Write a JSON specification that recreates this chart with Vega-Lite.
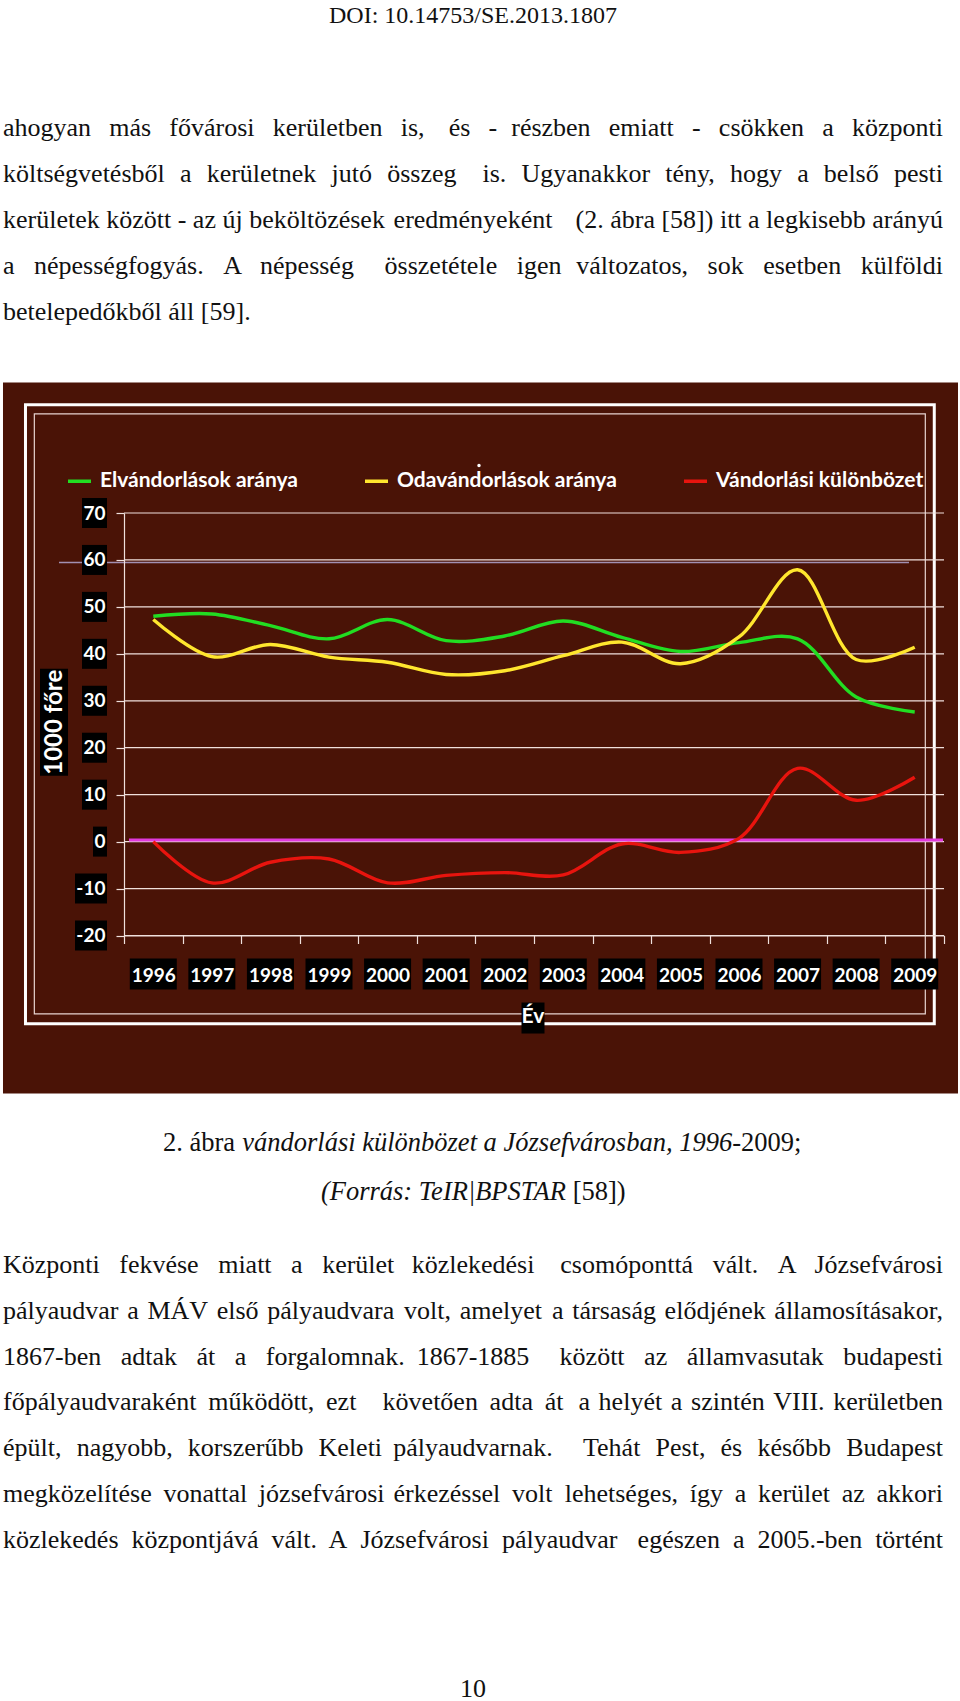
{
  "$schema": "https://vega.github.io/schema/vega-lite/v6.json",
  "padding": {"left": 2, "top": 0, "right": 0, "bottom": 0},
  "autosize": {"type": "pad"},
  "background": "#ffffff",
  "columns": 1,
  "align": "none",
  "bounds": "full",
  "spacing": 0,
  "resolve": {"legend": {"color": "independent"}},
  "config": {"view": {"stroke": null}},
  "datasets": {
    "series": [
      {"year": 1996, "series": "Elvándorlások aránya", "value": 48.0},
      {"year": 1997, "series": "Elvándorlások aránya", "value": 48.5},
      {"year": 1998, "series": "Elvándorlások aránya", "value": 46.0},
      {"year": 1999, "series": "Elvándorlások aránya", "value": 43.2},
      {"year": 2000, "series": "Elvándorlások aránya", "value": 47.3},
      {"year": 2001, "series": "Elvándorlások aránya", "value": 42.8},
      {"year": 2002, "series": "Elvándorlások aránya", "value": 43.8},
      {"year": 2003, "series": "Elvándorlások aránya", "value": 47.0},
      {"year": 2004, "series": "Elvándorlások aránya", "value": 43.5},
      {"year": 2005, "series": "Elvándorlások aránya", "value": 40.5},
      {"year": 2006, "series": "Elvándorlások aránya", "value": 42.4},
      {"year": 2007, "series": "Elvándorlások aránya", "value": 43.2},
      {"year": 2008, "series": "Elvándorlások aránya", "value": 30.8},
      {"year": 2009, "series": "Elvándorlások aránya", "value": 27.6},
      {"year": 1996, "series": "Odavándorlások aránya", "value": 47.3},
      {"year": 1997, "series": "Odavándorlások aránya", "value": 39.4},
      {"year": 1998, "series": "Odavándorlások aránya", "value": 42.0},
      {"year": 1999, "series": "Odavándorlások aránya", "value": 39.3},
      {"year": 2000, "series": "Odavándorlások aránya", "value": 38.2},
      {"year": 2001, "series": "Odavándorlások aránya", "value": 35.6},
      {"year": 2002, "series": "Odavándorlások aránya", "value": 36.4},
      {"year": 2003, "series": "Odavándorlások aránya", "value": 39.6},
      {"year": 2004, "series": "Odavándorlások aránya", "value": 42.5},
      {"year": 2005, "series": "Odavándorlások aránya", "value": 37.9},
      {"year": 2006, "series": "Odavándorlások aránya", "value": 43.6},
      {"year": 2007, "series": "Odavándorlások aránya", "value": 57.9},
      {"year": 2008, "series": "Odavándorlások aránya", "value": 38.8},
      {"year": 2009, "series": "Odavándorlások aránya", "value": 41.4},
      {"year": 1996, "series": "Vándorlási különbözet", "value": 0.0},
      {"year": 1997, "series": "Vándorlási különbözet", "value": -8.8},
      {"year": 1998, "series": "Vándorlási különbözet", "value": -4.4},
      {"year": 1999, "series": "Vándorlási különbözet", "value": -3.7},
      {"year": 2000, "series": "Vándorlási különbözet", "value": -8.8},
      {"year": 2001, "series": "Vándorlási különbözet", "value": -7.2},
      {"year": 2002, "series": "Vándorlási különbözet", "value": -6.6},
      {"year": 2003, "series": "Vándorlási különbözet", "value": -7.1},
      {"year": 2004, "series": "Vándorlási különbözet", "value": -0.5},
      {"year": 2005, "series": "Vándorlási különbözet", "value": -2.3},
      {"year": 2006, "series": "Vándorlási különbözet", "value": 0.7},
      {"year": 2007, "series": "Vándorlási különbözet", "value": 15.6},
      {"year": 2008, "series": "Vándorlási különbözet", "value": 8.8},
      {"year": 2009, "series": "Vándorlási különbözet", "value": 13.7}
    ],
    "ticks": [{"t": -20}, {"t": -10}, {"t": 0}, {"t": 10}, {"t": 20}, {"t": 30}, {"t": 40}, {"t": 50}, {"t": 60}, {"t": 70}],
    "years": [{"year": 1996}, {"year": 1997}, {"year": 1998}, {"year": 1999}, {"year": 2000}, {"year": 2001}, {"year": 2002}, {"year": 2003}, {"year": 2004}, {"year": 2005}, {"year": 2006}, {"year": 2007}, {"year": 2008}, {"year": 2009}],
    "para1": [
      {"ln": 1, "l": "ahogyan\u2002\u2009más\u2002\u2009fővárosi\u2002\u2009kerületben\u2002\u2009is,", "m": "és\u2002\u2009-", "r": "részben\u2002\u2009emiatt\u2002\u2009-\u2002\u2009csökken\u2002\u2009a\u2002\u2009központi"},
      {"ln": 2, "l": "költségvetésből \u2004a \u2004kerületnek \u2004jutó \u2004összeg", "m": "", "r": "is. \u2004Ugyanakkor \u2004tény, \u2004hogy \u2004a \u2004belső \u2004pesti"},
      {"ln": 3, "l": "kerületek között - az új beköltözések", "m": "eredményeként", "r": "(2. ábra [58]) itt a legkisebb arányú"},
      {"ln": 4, "l": "a \u2002népességfogyás. \u2002A \u2002népesség", "m": "összetétele \u2002igen", "r": "változatos, \u2002sok \u2002esetben \u2002külföldi"},
      {"ln": 5, "l": "betelepedőkből áll [59].", "m": "", "r": ""}
    ],
    "para2": [
      {"ln": 1, "l": "Központi \u2002fekvése \u2002miatt \u2002a \u2002kerület", "m": "közlekedési", "r": "csomóponttá \u2002vált. \u2002A \u2002Józsefvárosi"},
      {"ln": 2, "l": "pályaudvar\u2004a\u2004MÁV\u2004első\u2004pályaudvara", "m": "volt,\u2004amelyet", "r": "a\u2004társaság\u2004elődjének\u2004államosításakor,"},
      {"ln": 3, "l": "1867-ben \u2002adtak \u2002át \u2002a \u2002forgalomnak.", "m": "1867-1885", "r": "között \u2002az \u2002államvasutak \u2002budapesti"},
      {"ln": 4, "l": "főpályaudvaraként \u2009működött, \u2009ezt", "m": "követően \u2009adta \u2009át", "r": "a\u2004helyét\u2004a\u2004szintén\u2004VIII.\u2004kerületben"},
      {"ln": 5, "l": "épült, \u2004nagyobb, \u2004korszerűbb \u2004Keleti", "m": "pályaudvarnak.", "r": "Tehát \u2004Pest, \u2004és \u2004később \u2004Budapest"},
      {"ln": 6, "l": "megközelítése \u2009vonattal \u2009józsefvárosi", "m": "érkezéssel \u2009volt", "r": "lehetséges, \u2009így \u2009a \u2009kerület \u2009az \u2009akkori"},
      {"ln": 7, "l": "közlekedés\u2002központjává\u2002vált.", "m": "A\u2002Józsefvárosi\u2002pályaudvar", "r": "egészen\u2002a\u20022005.-ben\u2002történt"}
    ]
  },
  "concat": [
    {
      "width": 820,
      "height": 382,
      "data": {"name": "para1"},
      "layer": [
        {
          "data": {"values": [{"t": "DOI: 10.14753/SE.2013.1807"}]},
          "mark": {"type": "text", "font": "Liberation Serif", "fontSize": 24, "align": "center", "baseline": "alphabetic", "color": "#111111"},
          "encoding": {
            "text": {"field": "t"},
            "x": {"datum": 0.5, "type": "quantitative", "scale": {"domain": [0, 1], "range": [-121, 819], "nice": false, "zero": false}, "axis": null},
            "y": {"datum": -1.4457, "type": "quantitative", "scale": {"domain": [-1.9457, 6.3587], "reverse": true, "nice": false, "zero": false}, "axis": null}
          }
        },
        {
          "mark": {"type": "text", "font": "Liberation Serif", "fontSize": 26, "align": "left", "baseline": "alphabetic", "color": "#111111"},
          "encoding": {
            "text": {"field": "l"},
            "x": {"datum": 0, "type": "quantitative", "scale": {"domain": [0, 1], "range": [-121, 819], "nice": false, "zero": false}, "axis": null},
            "y": {"field": "ln", "type": "quantitative", "scale": {"domain": [-1.9457, 6.3587], "reverse": true, "nice": false, "zero": false}, "axis": null}
          }
        },
        {
          "mark": {"type": "text", "font": "Liberation Serif", "fontSize": 26, "align": "center", "baseline": "alphabetic", "color": "#111111"},
          "encoding": {
            "text": {"field": "m"},
            "x": {"datum": 0.5, "type": "quantitative", "scale": {"domain": [0, 1], "range": [-121, 819], "nice": false, "zero": false}, "axis": null},
            "y": {"field": "ln", "type": "quantitative", "scale": {"domain": [-1.9457, 6.3587], "reverse": true, "nice": false, "zero": false}, "axis": null}
          }
        },
        {
          "mark": {"type": "text", "font": "Liberation Serif", "fontSize": 26, "align": "right", "baseline": "alphabetic", "color": "#111111"},
          "encoding": {
            "text": {"field": "r"},
            "x": {"datum": 1, "type": "quantitative", "scale": {"domain": [0, 1], "range": [-121, 819], "nice": false, "zero": false}, "axis": null},
            "y": {"field": "ln", "type": "quantitative", "scale": {"domain": [-1.9457, 6.3587], "reverse": true, "nice": false, "zero": false}, "axis": null}
          }
        }
      ]
    },
    {
      "width": 820,
      "height": 422.5,
      "layer": [
        {
          "data": {"values": [{}]},
          "mark": {"type": "rect", "fill": "#4a1306"},
          "encoding": {
            "x": {"datum": 1993.434, "type": "quantitative", "scale": {"domain": [1995.5, 2009.5], "nice": false, "zero": false}},
            "x2": {"datum": 2009.739},
            "y": {"datum": 97.8, "type": "quantitative", "scale": {"domain": [-20, 70], "nice": false, "zero": false}},
            "y2": {"datum": -53.66}
          }
        },
        {
          "data": {"values": [{}]},
          "mark": {"type": "rect", "fill": "transparent", "stroke": "#ffffff", "strokeWidth": 3},
          "encoding": {
            "x": {"datum": 1993.818, "type": "quantitative", "scale": {"domain": [1995.5, 2009.5], "nice": false, "zero": false}},
            "x2": {"datum": 2009.334},
            "y": {"datum": 93.05, "type": "quantitative", "scale": {"domain": [-20, 70], "nice": false, "zero": false}},
            "y2": {"datum": -38.81}
          }
        },
        {
          "data": {"values": [{}]},
          "mark": {"type": "rect", "fill": "transparent", "stroke": "#e8d4d0", "strokeWidth": 1.2},
          "encoding": {
            "x": {"datum": 1993.969, "type": "quantitative", "scale": {"domain": [1995.5, 2009.5], "nice": false, "zero": false}},
            "x2": {"datum": 2009.181},
            "y": {"datum": 91.13, "type": "quantitative", "scale": {"domain": [-20, 70], "nice": false, "zero": false}},
            "y2": {"datum": -36.68}
          }
        },
        {
          "data": {"values": [{}]},
          "mark": {"type": "rule", "stroke": "#a290b2", "strokeWidth": 1.5},
          "encoding": {
            "x": {"datum": 1994.39, "type": "quantitative", "scale": {"domain": [1995.5, 2009.5], "nice": false, "zero": false}},
            "x2": {"datum": 2008.902},
            "y": {"datum": 59.45, "type": "quantitative", "scale": {"domain": [-20, 70], "nice": false, "zero": false}}
          }
        },
        {
          "data": {"name": "ticks"},
          "mark": {"type": "rule", "stroke": "#f0e0dc", "strokeWidth": 1.2},
          "encoding": {
            "x": {"datum": 1995.5, "type": "quantitative", "scale": {"domain": [1995.5, 2009.5], "nice": false, "zero": false}},
            "x2": {"datum": 2009.5},
            "y": {"field": "t", "type": "quantitative", "scale": {"domain": [-20, 70], "nice": false, "zero": false}}
          }
        },
        {
          "data": {"name": "ticks"},
          "transform": [{"filter": "datum.t > 0"}],
          "mark": {"type": "tick", "orient": "horizontal", "size": 25, "thickness": 30, "color": "#000000", "opacity": 1},
          "encoding": {
            "x": {"datum": 1994.9963, "type": "quantitative", "scale": {"domain": [1995.5, 2009.5], "nice": false, "zero": false}},
            "y": {"field": "t", "type": "quantitative", "scale": {"domain": [-20, 70], "nice": false, "zero": false}}
          }
        },
        {
          "data": {"name": "ticks"},
          "transform": [{"filter": "datum.t == 0"}],
          "mark": {"type": "tick", "orient": "horizontal", "size": 14, "thickness": 30, "color": "#000000", "opacity": 1},
          "encoding": {
            "x": {"datum": 1995.0902, "type": "quantitative", "scale": {"domain": [1995.5, 2009.5], "nice": false, "zero": false}},
            "y": {"field": "t", "type": "quantitative", "scale": {"domain": [-20, 70], "nice": false, "zero": false}}
          }
        },
        {
          "data": {"name": "ticks"},
          "transform": [{"filter": "datum.t < 0"}],
          "mark": {"type": "tick", "orient": "horizontal", "size": 32, "thickness": 30, "color": "#000000", "opacity": 1},
          "encoding": {
            "x": {"datum": 1994.9366, "type": "quantitative", "scale": {"domain": [1995.5, 2009.5], "nice": false, "zero": false}},
            "y": {"field": "t", "type": "quantitative", "scale": {"domain": [-20, 70], "nice": false, "zero": false}}
          }
        },
        {
          "data": {"name": "years"},
          "mark": {"type": "tick", "orient": "horizontal", "size": 47, "thickness": 31, "color": "#000000", "opacity": 1},
          "encoding": {
            "x": {"field": "year", "type": "quantitative", "scale": {"domain": [1995.5, 2009.5], "nice": false, "zero": false}},
            "y": {"datum": -28.2, "type": "quantitative", "scale": {"domain": [-20, 70], "nice": false, "zero": false}}
          }
        },
        {
          "data": {"values": [{}]},
          "mark": {"type": "tick", "orient": "vertical", "size": 107, "thickness": 28, "color": "#000000", "opacity": 1},
          "encoding": {
            "x": {"datum": 1994.305, "type": "quantitative", "scale": {"domain": [1995.5, 2009.5], "nice": false, "zero": false}},
            "y": {"datum": 25.43, "type": "quantitative", "scale": {"domain": [-20, 70], "nice": false, "zero": false}}
          }
        },
        {
          "data": {"values": [{"t": "1000 főre"}]},
          "mark": {"type": "text", "angle": 270, "font": "Lato", "fontWeight": "bold", "fontSize": 24, "fill": "#ffffff", "align": "center", "baseline": "middle"},
          "encoding": {
            "text": {"field": "t"},
            "x": {"datum": 1994.33, "type": "quantitative", "scale": {"domain": [1995.5, 2009.5], "nice": false, "zero": false}},
            "y": {"datum": 25.43, "type": "quantitative", "scale": {"domain": [-20, 70], "nice": false, "zero": false}}
          }
        },
        {
          "data": {"values": [{}]},
          "mark": {"type": "tick", "orient": "horizontal", "size": 23, "thickness": 31, "color": "#000000", "opacity": 1},
          "encoding": {
            "x": {"datum": 2002.483, "type": "quantitative", "scale": {"domain": [1995.5, 2009.5], "nice": false, "zero": false}},
            "y": {"datum": -37.58, "type": "quantitative", "scale": {"domain": [-20, 70], "nice": false, "zero": false}}
          }
        },
        {
          "data": {"values": [{"t": "Év"}]},
          "mark": {"type": "text", "font": "Lato", "fontWeight": "bold", "fontSize": 21, "fill": "#ffffff", "align": "center", "baseline": "middle"},
          "encoding": {
            "text": {"field": "t"},
            "x": {"datum": 2002.483, "type": "quantitative", "scale": {"domain": [1995.5, 2009.5], "nice": false, "zero": false}},
            "y": {"datum": -37.3, "type": "quantitative", "scale": {"domain": [-20, 70], "nice": false, "zero": false}}
          }
        },
        {
          "data": {"values": [{}]},
          "mark": {"type": "point", "filled": true, "color": "#ffffff", "size": 12, "opacity": 1},
          "encoding": {
            "x": {"datum": 2001.561, "type": "quantitative", "scale": {"domain": [1995.5, 2009.5], "nice": false, "zero": false}},
            "y": {"datum": 80.1, "type": "quantitative", "scale": {"domain": [-20, 70], "nice": false, "zero": false}}
          }
        },
        {
          "data": {"values": [{}]},
          "mark": {"type": "rule", "stroke": "#e23ade", "strokeWidth": 3},
          "encoding": {
            "x": {"datum": 1995.585, "type": "quantitative", "scale": {"domain": [1995.5, 2009.5], "nice": false, "zero": false}},
            "x2": {"datum": 2009.483},
            "y": {"datum": 0.35, "type": "quantitative", "scale": {"domain": [-20, 70], "nice": false, "zero": false}}
          }
        },
        {
          "data": {"name": "series"},
          "mark": {"type": "line", "interpolate": "catmull-rom", "strokeWidth": 3.4},
          "encoding": {
            "x": {
              "field": "year", "type": "quantitative",
              "scale": {"domain": [1995.5, 2009.5], "nice": false, "zero": false},
              "axis": {
                "values": [1995.5, 1996.5, 1997.5, 1998.5, 1999.5, 2000.5, 2001.5, 2002.5, 2003.5, 2004.5, 2005.5, 2006.5, 2007.5, 2008.5, 2009.5],
                "labelExpr": "datum.value > 2009 ? '' : '' + (datum.value + 0.5)",
                "labelOffset": 29.2857,
                "labelFlush": false, "labelOverlap": false, "labelBound": false,
                "labelFont": "Lato", "labelFontWeight": "bold", "labelFontSize": 19, "labelColor": "#ffffff",
                "labelPadding": 23,
                "tickSize": 8, "tickColor": "#f0e0dc", "tickWidth": 1.2,
                "domainColor": "#f0e0dc", "domainWidth": 1.2,
                "grid": false, "title": null, "zindex": 1
              }
            },
            "y": {
              "field": "value", "type": "quantitative",
              "scale": {"domain": [-20, 70], "nice": false, "zero": false},
              "axis": {
                "values": [-20, -10, 0, 10, 20, 30, 40, 50, 60, 70],
                "labelExpr": "'' + datum.value",
                "labelFlush": false, "labelOverlap": false, "labelBound": false,
                "labelFont": "Lato", "labelFontWeight": "bold", "labelFontSize": 19, "labelColor": "#ffffff",
                "labelPadding": 11,
                "tickSize": 8, "tickColor": "#f0e0dc", "tickWidth": 1.2,
                "domainColor": "#f0e0dc", "domainWidth": 1.2,
                "grid": false, "title": null, "zindex": 1
              }
            },
            "color": {
              "field": "series", "type": "nominal",
              "scale": {"domain": ["Elvándorlások aránya", "Odavándorlások aránya", "Vándorlási különbözet"], "range": ["#22dd22", "#ffe62e", "#e8140e"]},
              "legend": {
                "orient": "none", "legendX": -58, "legendY": -45.5, "direction": "horizontal", "title": null,
                "symbolType": "stroke", "symbolSize": 529, "symbolStrokeWidth": 3.5, "symbolOffset": 0,
                "labelFont": "Lato", "labelFontWeight": "bold", "labelFontSize": 21, "labelColor": "#ffffff",
                "labelOffset": 7, "columnPadding": 60, "padding": 0, "labelLimit": 400
              }
            }
          }
        }
      ]
    },
    {
      "width": 820,
      "height": 608,
      "data": {"name": "para2"},
      "layer": [
        {
          "data": {"values": [{"t": "2. ábra"}]},
          "mark": {"type": "text", "font": "Liberation Serif", "fontSize": 26.5, "align": "right", "baseline": "alphabetic", "color": "#111111"},
          "encoding": {
            "text": {"field": "t"},
            "x": {"datum": 0.2468, "type": "quantitative", "scale": {"domain": [0, 1], "range": [-121, 819], "nice": false, "zero": false}, "axis": null},
            "y": {"datum": -1.6638, "type": "quantitative", "scale": {"domain": [-2.9083, 10.3668], "reverse": true, "nice": false, "zero": false}, "axis": null}
          }
        },
        {
          "data": {"values": [{"t": "vándorlási különbözet a Józsefvárosban, 1996-"}]},
          "mark": {"type": "text", "font": "Liberation Serif", "fontStyle": "italic", "fontSize": 26.5, "align": "right", "baseline": "alphabetic", "color": "#111111"},
          "encoding": {
            "text": {"field": "t"},
            "x": {"datum": 0.7851, "type": "quantitative", "scale": {"domain": [0, 1], "range": [-121, 819], "nice": false, "zero": false}, "axis": null},
            "y": {"datum": -1.6638, "type": "quantitative", "scale": {"domain": [-2.9083, 10.3668], "reverse": true, "nice": false, "zero": false}, "axis": null}
          }
        },
        {
          "data": {"values": [{"t": "2009;"}]},
          "mark": {"type": "text", "font": "Liberation Serif", "fontSize": 26.5, "align": "left", "baseline": "alphabetic", "color": "#111111"},
          "encoding": {
            "text": {"field": "t"},
            "x": {"datum": 0.7851, "type": "quantitative", "scale": {"domain": [0, 1], "range": [-121, 819], "nice": false, "zero": false}, "axis": null},
            "y": {"datum": -1.6638, "type": "quantitative", "scale": {"domain": [-2.9083, 10.3668], "reverse": true, "nice": false, "zero": false}, "axis": null}
          }
        },
        {
          "data": {"values": [{"t": "(Forrás: TeIR|BPSTAR"}]},
          "mark": {"type": "text", "font": "Liberation Serif", "fontStyle": "italic", "fontSize": 26.5, "align": "right", "baseline": "alphabetic", "color": "#111111"},
          "encoding": {
            "text": {"field": "t"},
            "x": {"datum": 0.5989, "type": "quantitative", "scale": {"domain": [0, 1], "range": [-121, 819], "nice": false, "zero": false}, "axis": null},
            "y": {"datum": -0.5939, "type": "quantitative", "scale": {"domain": [-2.9083, 10.3668], "reverse": true, "nice": false, "zero": false}, "axis": null}
          }
        },
        {
          "data": {"values": [{"t": "[58])"}]},
          "mark": {"type": "text", "font": "Liberation Serif", "fontSize": 26.5, "align": "left", "baseline": "alphabetic", "color": "#111111"},
          "encoding": {
            "text": {"field": "t"},
            "x": {"datum": 0.606, "type": "quantitative", "scale": {"domain": [0, 1], "range": [-121, 819], "nice": false, "zero": false}, "axis": null},
            "y": {"datum": -0.5939, "type": "quantitative", "scale": {"domain": [-2.9083, 10.3668], "reverse": true, "nice": false, "zero": false}, "axis": null}
          }
        },
        {
          "mark": {"type": "text", "font": "Liberation Serif", "fontSize": 26, "align": "left", "baseline": "alphabetic", "color": "#111111"},
          "encoding": {
            "text": {"field": "l"},
            "x": {"datum": 0, "type": "quantitative", "scale": {"domain": [0, 1], "range": [-121, 819], "nice": false, "zero": false}, "axis": null},
            "y": {"field": "ln", "type": "quantitative", "scale": {"domain": [-2.9083, 10.3668], "reverse": true, "nice": false, "zero": false}, "axis": null}
          }
        },
        {
          "mark": {"type": "text", "font": "Liberation Serif", "fontSize": 26, "align": "center", "baseline": "alphabetic", "color": "#111111"},
          "encoding": {
            "text": {"field": "m"},
            "x": {"datum": 0.5, "type": "quantitative", "scale": {"domain": [0, 1], "range": [-121, 819], "nice": false, "zero": false}, "axis": null},
            "y": {"field": "ln", "type": "quantitative", "scale": {"domain": [-2.9083, 10.3668], "reverse": true, "nice": false, "zero": false}, "axis": null}
          }
        },
        {
          "mark": {"type": "text", "font": "Liberation Serif", "fontSize": 26, "align": "right", "baseline": "alphabetic", "color": "#111111"},
          "encoding": {
            "text": {"field": "r"},
            "x": {"datum": 1, "type": "quantitative", "scale": {"domain": [0, 1], "range": [-121, 819], "nice": false, "zero": false}, "axis": null},
            "y": {"field": "ln", "type": "quantitative", "scale": {"domain": [-2.9083, 10.3668], "reverse": true, "nice": false, "zero": false}, "axis": null}
          }
        },
        {
          "data": {"values": [{"t": "10"}]},
          "mark": {"type": "text", "font": "Liberation Serif", "fontSize": 26, "align": "center", "baseline": "alphabetic", "color": "#111111"},
          "encoding": {
            "text": {"field": "t"},
            "x": {"datum": 0.5, "type": "quantitative", "scale": {"domain": [0, 1], "range": [-121, 819], "nice": false, "zero": false}, "axis": null},
            "y": {"datum": 10.25, "type": "quantitative", "scale": {"domain": [-2.9083, 10.3668], "reverse": true, "nice": false, "zero": false}, "axis": null}
          }
        }
      ]
    }
  ]
}
